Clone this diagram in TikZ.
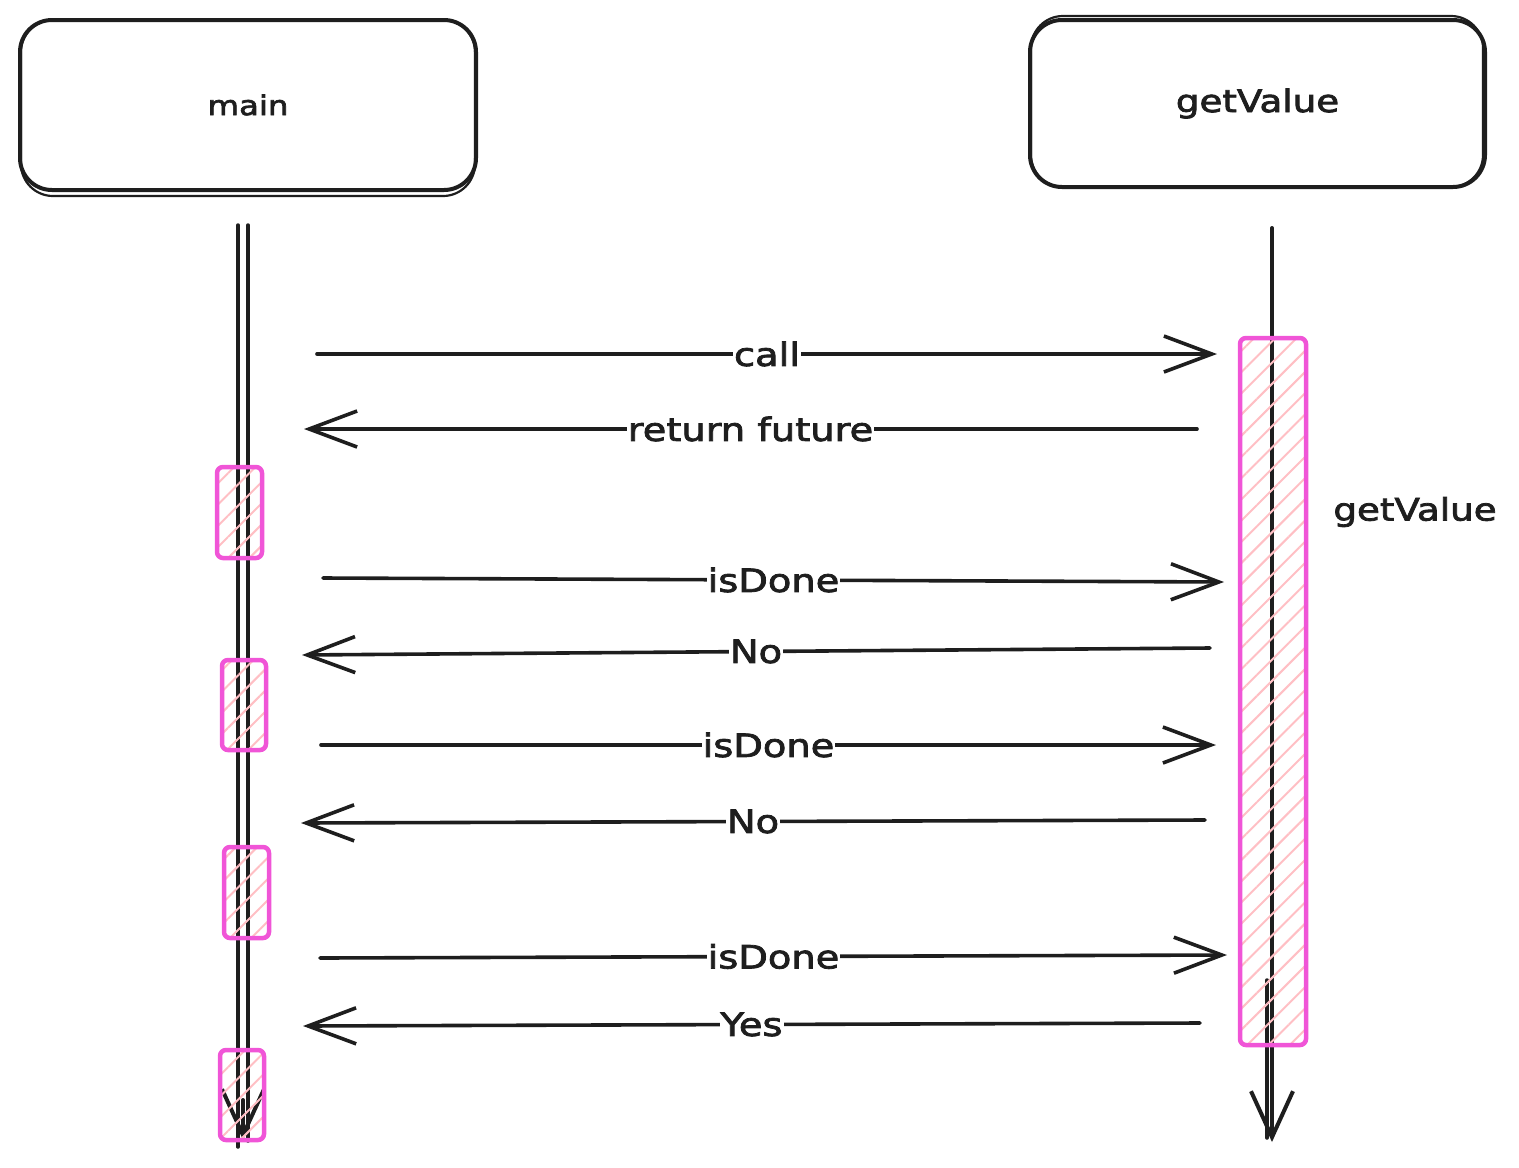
\documentclass[tikz,border=0pt]{standalone}
\usepackage{fontspec}
\setmainfont{DejaVu Sans}[FakeStretch=1.2,FakeBold=2.5]
\usetikzlibrary{arrows.meta,patterns.meta}
\definecolor{ink}{HTML}{1E1E1E}
\definecolor{actpink}{RGB}{240,85,215}
\definecolor{hatchpink}{HTML}{FFBFC4}
\begin{document}
\begin{tikzpicture}[x=1pt,y=-1pt,
  actor/.style={draw=ink, line width=4pt, rounded corners=32pt, fill=white, inner sep=0pt, text=ink},
  sketch/.style={draw=ink, line width=2.2pt, rounded corners=32pt},
  life/.style={draw=ink, line width=3.5pt, line cap=round},
  lifetip/.style={draw=ink, line width=4pt, line cap=round, -{Straight Barb[length=46pt,width=42pt]}},
  msg/.style={draw=ink, line width=3.6pt, line cap=round, -{Straight Barb[length=48pt,width=36pt]}},
  lbl/.style={fill=white, inner xsep=1pt, inner ysep=2pt, font=\fontsize{32}{37}\selectfont, text=ink},
  act/.style={draw=actpink, line width=4.5pt, rounded corners=6pt, inner sep=0pt,
    pattern={Lines[angle=45,distance=15pt,line width=2pt]}, pattern color=hatchpink},
]
\useasboundingbox (0,0) rectangle (1519,1168);

% header boxes
\node[actor, minimum width=456pt, minimum height=170pt, font=\fontsize{27}{32}\selectfont] (mainbox) at (248,105) {main};
\node[actor, minimum width=455pt, minimum height=167pt, font=\fontsize{31}{36}\selectfont] (gvbox) at (1257.5,103.5) {getValue};
\draw[sketch] ([shift={(3,4)}]mainbox.south west) rectangle ([shift={(-3,2)}]mainbox.north east);
\draw[sketch] ([shift={(3,-2)}]gvbox.south west) rectangle ([shift={(-4,-2)}]gvbox.north east);

% lifelines
\coordinate (mTa) at (238,225); \coordinate (mBa) at (238,1147);
\coordinate (mTb) at (248,225); \coordinate (mBb) at (248,1141);
\coordinate (mTipS) at (243,1100); \coordinate (mTip) at (243,1140);
\draw[life] (mTa) -- (mBa);
\draw[life] (mTb) -- (mBb);
\draw[lifetip] (mTipS) -- (mTip);

\coordinate (gT) at (1272,228); \coordinate (gB) at (1272,1142);
\coordinate (gT2) at (1267,980); \coordinate (gB2) at (1267,1138);
\draw[lifetip] (gT) -- (gB);
\draw[life] (gT2) -- (gB2);

% activations
\node[act, minimum width=66pt, minimum height=707pt] (gvact) at (1273,691.5) {};
\node[act, minimum width=45pt, minimum height=91pt] (ma1) at (239.5,512.5) {};
\node[act, minimum width=44pt, minimum height=90pt] (ma2) at (244,705) {};
\node[act, minimum width=45pt, minimum height=91pt] (ma3) at (246.5,892.5) {};
\node[act, minimum width=44pt, minimum height=90pt] (ma4) at (242,1095) {};

\node[font=\fontsize{31}{36}\selectfont, text=ink] (gvlabel) at (1415,512) {getValue};

% messages
\coordinate (m1s) at (317,354);  \coordinate (m1e) at (1217,354);
\coordinate (m2s) at (1197,429); \coordinate (m2e) at (304,429);
\coordinate (m3s) at (323,578);  \coordinate (m3e) at (1224,582);
\coordinate (m4s) at (1210,648); \coordinate (m4e) at (302,655);
\coordinate (m5s) at (321,745);  \coordinate (m5e) at (1216,745);
\coordinate (m6s) at (1205,820); \coordinate (m6e) at (301,823);
\coordinate (m7s) at (320,958);  \coordinate (m7e) at (1227,955);
\coordinate (m8s) at (1200,1023); \coordinate (m8e) at (303,1026);

\draw[msg] (m1s) -- node[lbl] (l1) {call} (m1e);
\draw[msg] (m2s) -- node[lbl] (l2) {return future} (m2e);
\draw[msg] (m3s) -- node[lbl] (l3) {isDone} (m3e);
\draw[msg] (m4s) -- node[lbl] (l4) {No} (m4e);
\draw[msg] (m5s) -- node[lbl] (l5) {isDone} (m5e);
\draw[msg] (m6s) -- node[lbl] (l6) {No} (m6e);
\draw[msg] (m7s) -- node[lbl] (l7) {isDone} (m7e);
\draw[msg] (m8s) -- node[lbl] (l8) {Yes} (m8e);
\end{tikzpicture}
\end{document}
